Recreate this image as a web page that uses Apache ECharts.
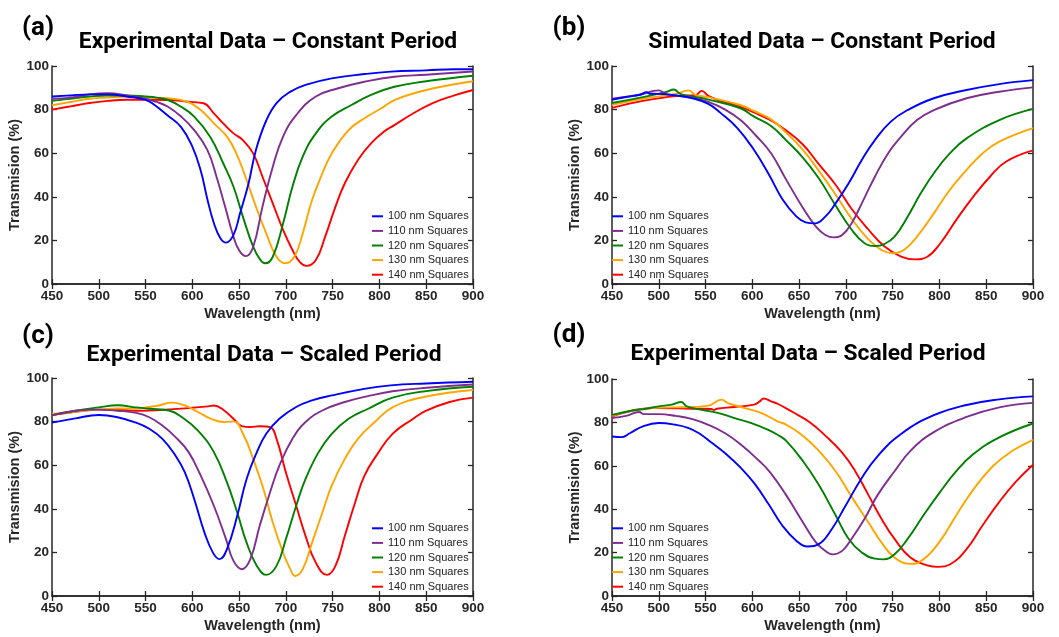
<!DOCTYPE html>
<html>
<head>
<meta charset="utf-8">
<script src="https://cdn.jsdelivr.net/npm/echarts@6/dist/echarts.min.js"></script>
<style>
html,body{margin:0;padding:0;background:#fff;}
#chart{width:1059px;height:637px;}
</style>
</head>
<body>
<div id="chart"></div>
<script>
// ---------- data: [wavelength (nm), transmission (%)] ----------
const seriesNames = ['100 nm Squares','110 nm Squares','120 nm Squares','130 nm Squares','140 nm Squares'];
const seriesColors = ['#0000FF','#7E2F8E','#008000','#FFA500','#FF0000'];
const panelTitles = ['Experimental Data \u2013 Constant Period','Simulated Data \u2013 Constant Period','Experimental Data \u2013 Scaled Period','Experimental Data \u2013 Scaled Period'];
const panelLabels = ['(a)','(b)','(c)','(d)'];
const xTicks = {min:450, max:900, step:50};
const yTicks = {min:0, max:100, step:20};

// Panel (a) experimental, constant period
const a100 = [[450,86],[470,86.5],[490,87],[510,87],[530,86],[550,84.5],[560,82],[573,77.5],[588,72],[600,63],[609,52],[616,39],[623,28],[630,21],[636,19],[644,22.5],[651,32.5],[660,46],[668,61.5],[679,75],[690,83],[704,88],[721,91.3],[749,94.3],[784,96.3],[812,97.4],[850,98],[880,98.5],[900,98.5]];
const a110 = [[450,85],[470,85.5],[490,87],[510,87.5],[530,86.5],[550,85],[562,83.5],[574,81.3],[588,76.8],[602,70.6],[616,61.5],[626,49],[635,35.5],[644,21.7],[650,15.5],[657,12.8],[665,17],[675,35.5],[686,53.8],[697,67.6],[711,77.5],[732,86],[756,89.8],[784,92.8],[816,95.1],[850,96],[900,97.5]];
const a120 = [[450,84],[470,85],[490,86],[510,86.5],[530,86.5],[550,86],[562,85.5],[574,84.4],[588,81.3],[602,76.8],[619,67.6],[633,55.4],[644,44.6],[654,30.9],[665,17.1],[672,11.5],[678,9.5],[686,12.5],[697,27.8],[707,44.6],[718,58.4],[732,69.1],[749,76.8],[770,82.1],[791,86.7],[816,90.5],[850,93],[900,95.5]];
const a130 = [[450,82],[470,83.5],[490,85],[510,85.5],[530,86],[550,85.5],[574,85.2],[595,83.6],[609,79.8],[623,73.7],[637,67.6],[647,59.9],[658,47.7],[668,35.5],[679,23.2],[690,12.5],[699,9.5],[709,12.5],[718,23.2],[728,38.5],[739,50.8],[749,59.9],[767,70.6],[784,76],[802,80.6],[816,84.4],[850,89],[900,93]];
const a140 = [[450,80],[470,81.5],[490,83],[510,84],[530,84.5],[550,84.5],[574,84.4],[595,83.6],[612,82.9],[623,78.3],[633,73.7],[644,69.1],[654,66],[665,59.9],[675,49.2],[686,37],[697,24.8],[707,15.6],[715,10],[722,8.3],[732,11],[742,21.7],[753,35.5],[763,46.2],[777,56.9],[791,64.5],[805,69.9],[816,72.9],[835,78],[857,83],[880,86.5],[900,89]];

// Panel (b) simulated, constant period
const b100 = [[450,84.5],[465,85.8],[480,86.8],[487,88],[490,87.3],[500,87.2],[518,86.5],[536,85.2],[553,82.6],[566,78.5],[584,71.5],[601,62],[618,50],[632,39],[647,31],[657,28.3],[667,27.8],[678,30.9],[689,37],[703,46.2],[717,56.9],[731,66],[748,74.5],[766,79.8],[794,85.2],[829,89],[864,91.7],[900,93.5]];
const b110 = [[450,85],[479,86.8],[500,88.8],[507,87.2],[518,86.5],[536,85.5],[553,83.5],[571,80],[588,75],[604,68],[620,60],[636,48],[654,35],[668,26.3],[678,22.5],[687,21.4],[696,22.5],[706,27.8],[717,37],[731,49.2],[745,59.9],[759,67.6],[776,75.2],[794,79.8],[829,85.2],[864,88.2],[900,90.2]];
const b120 = [[450,83],[483,85.7],[507,88],[516,89.2],[523,87.2],[531,86.4],[553,84.6],[588,80.5],[601,77],[620,72.5],[636,66],[654,58],[671,48.5],[689,36],[706,25],[720,18.7],[731,17.4],[741,18.3],[752,21.7],[766,30.9],[780,41.6],[794,50.8],[811,59.9],[829,66.8],[864,75.2],[900,80.3]];
const b130 = [[450,82.2],[483,85],[518,87.2],[532,88.8],[539,86.8],[553,85.7],[588,82],[601,79.5],[620,75.5],[636,69.5],[654,61.5],[671,52],[689,41],[706,30],[724,20.5],[738,15.6],[750,14.1],[762,15.6],[776,21.7],[794,32.4],[811,43.1],[829,52.3],[846,59.9],[864,65.3],[900,71.5]];
const b140 = [[450,80.8],[483,84],[518,86.2],[539,86.6],[546,88.6],[553,86.3],[566,84],[584,81.8],[601,78.8],[620,75],[636,70.5],[654,64],[671,55],[689,45.5],[706,34.5],[724,25],[741,17.3],[759,12.6],[774,11.3],[787,12.5],[801,18.7],[818,29.4],[836,40],[854,49.2],[871,56.1],[900,61.3]];

// Panel (c) experimental, scaled period
const c100 = [[450,79.5],[475,81.5],[500,83],[520,82],[540,79.5],[554,76.7],[568,72.1],[582,64.4],[592,56.7],[602,44.5],[613,29.1],[622,19.9],[629,16.9],[637,21.5],[648,36.8],[658,53.7],[669,66],[679,74.4],[693,81.3],[711,86.7],[728,89.7],[749,92],[781,94.8],[812,96.6],[850,97.5],[900,98.3]];
const c110 = [[450,83],[475,85],[500,85.5],[520,85],[540,84],[554,82],[568,78.2],[582,72.9],[596,66],[609,55.2],[623,41.4],[636,26.1],[644,16.1],[653,12.3],[662,16.9],[672,32.2],[683,47.5],[693,59.8],[707,72.1],[721,79.8],[739,85.1],[763,89],[791,92],[814,93.9],[850,95.5],[900,97]];
const c120 = [[450,83],[475,85],[500,86.5],[520,87.5],[540,86.5],[554,85.9],[575,85.1],[589,82],[606,75.9],[623,66],[637,52.1],[648,38.3],[658,24.5],[669,13.8],[679,9.7],[690,13.8],[700,26.1],[711,41.4],[721,53.7],[735,66],[749,74.4],[767,81.3],[788,85.9],[814,91],[850,94],[900,96]];
const c130 = [[450,83.5],[475,84.5],[500,85.5],[520,86],[540,86],[554,86.7],[564,87.4],[578,88.7],[592,87.4],[606,84.4],[620,81.3],[634,79.8],[644,80.1],[655,73.6],[665,62.9],[676,49.1],[686,33.7],[697,19.9],[704,13],[710,9.2],[718,12.3],[728,24.5],[739,38.3],[749,50.6],[763,62.9],[777,72.1],[795,79.8],[814,86.5],[850,91.5],[900,94.5]];
const c140 = [[450,83],[475,84.5],[500,85.5],[520,85.5],[540,85],[554,85.1],[575,85.6],[596,86.2],[617,87],[623,87.4],[634,85.1],[644,81.3],[653,77.9],[662,77.5],[672,77.9],[683,77.5],[690,72.1],[700,56.7],[711,41.4],[721,27.6],[732,15.3],[744,9.7],[753,13.8],[763,27.6],[774,42.9],[784,55.2],[798,65.2],[814,74.4],[835,81],[850,85],[875,89],[900,91]];

// Panel (d) scaled period (simulated-style curves)
const d100 = [[450,73.5],[460,73.2],[469,75],[483,78.2],[500,79.7],[518,78.9],[532,77.4],[543,75],[557,70.5],[571,65.8],[588,58.9],[602,52],[618,41.9],[632,32.5],[647,25.5],[659,22.8],[671,23.9],[685,30.9],[699,41.1],[717,54.4],[734,64.5],[759,74.7],[794,83.3],[829,88],[864,90.6],[900,92]];
const d110 = [[450,82],[465,83],[479,84.8],[484,83.8],[500,83.8],[518,83],[536,81.5],[553,78.9],[571,75],[588,69.7],[606,62.8],[619,57],[636,46.6],[654,34],[668,24.7],[678,20.8],[686,19.2],[696,20.8],[706,26.3],[720,35.6],[734,46.6],[752,57.5],[769,66.9],[794,75.5],[829,82.5],[864,86.9],[900,89]];
const d120 = [[450,83.5],[472,85.5],[486,86.3],[500,87.4],[514,88.2],[524,89.4],[530,87.4],[546,85.8],[564,84.3],[581,82],[599,79.7],[617,76.6],[627,74.3],[636,71.6],[654,62.2],[671,51.3],[689,37.2],[703,26.3],[717,20],[731,17.2],[740,16.9],[752,19.2],[766,26.3],[783,37.2],[801,48.1],[818,57.5],[836,65.3],[864,73.1],[900,79.5]];
const d130 = [[450,83],[472,85.4],[493,86.6],[536,87.1],[553,87.7],[567,90.5],[574,88.9],[592,86.6],[610,84.3],[627,80.5],[636,79],[654,73.9],[671,66.9],[689,57.5],[706,45.8],[724,34],[738,24.7],[752,17.7],[769,14.8],[783,16.9],[801,25.5],[818,37.2],[836,48.9],[857,59.8],[878,66.9],[900,72]];
const d140 = [[450,82.8],[472,85.5],[493,86.6],[536,86.3],[556,86.2],[559,85.7],[562,86.3],[581,87.1],[602,88.2],[608,89.7],[612,91],[620,89.7],[627,88.6],[643,84.8],[661,80.2],[678,73.9],[696,66.1],[710,57.5],[724,46.6],[738,35.6],[752,26.3],[769,17.7],[787,14.1],[799,13.4],[811,14.5],[829,21.6],[846,32.5],[864,43.4],[882,52.8],[900,60.5]];

const panelData = [[a100,a110,a120,a130,a140],[b100,b110,b120,b130,b140],[c100,c110,c120,c130,c140],[d100,d110,d120,d130,d140]];

// ---------- layout ----------
const grids = [
  {left:52, top:66, width:421, height:218},
  {left:612, top:66, width:421, height:218},
  {left:52, top:378, width:421, height:218},
  {left:612, top:379, width:421, height:217}
];
const titlePos = [[268,42],[822,42],[264,355],[808,354]];
const labelPos = [[38,28],[569,28],[38,336],[569,335]];
const legendPos = [[372,209],[612,209],[372,521],[612,521]];

const axisColor = '#262626';
const axisFont = 'Liberation Sans';

const xAxes = [], yAxes = [], series = [], legends = [], graphics = [];
grids.forEach((g, i) => {
  const tick = {inside:true, length:5, lineStyle:{color:axisColor, width:1.3}};
  const line = {show:true, lineStyle:{color:axisColor, width:1.5}};
  xAxes.push({
    type:'value', gridIndex:i, position:'bottom', min:xTicks.min, max:xTicks.max, interval:xTicks.step,
    axisLine:line, axisTick:tick, splitLine:{show:false},
    axisLabel:{color:axisColor, fontWeight:'bold', fontSize:13.5, fontFamily:axisFont, margin:5},
    name:'Wavelength (nm)', nameLocation:'middle', nameGap:22,
    nameTextStyle:{color:axisColor, fontWeight:'bold', fontSize:14.5, fontFamily:axisFont}
  });
  xAxes.push({
    type:'value', gridIndex:i, position:'top', min:xTicks.min, max:xTicks.max, interval:xTicks.step,
    axisLine:line, axisTick:tick, splitLine:{show:false}, axisLabel:{show:false}
  });
  yAxes.push({
    type:'value', gridIndex:i, position:'left', min:yTicks.min, max:yTicks.max, interval:yTicks.step,
    axisLine:line, axisTick:tick, splitLine:{show:false},
    axisLabel:{color:axisColor, fontWeight:'bold', fontSize:13.5, fontFamily:axisFont, margin:3},
    name:'Transmision (%)', nameLocation:'middle', nameGap:23,
    nameTextStyle:{color:axisColor, fontWeight:'bold', fontSize:14.5, fontFamily:axisFont}
  });
  yAxes.push({
    type:'value', gridIndex:i, position:'right', min:yTicks.min, max:yTicks.max, interval:yTicks.step,
    axisLine:line, axisTick:tick, splitLine:{show:false}, axisLabel:{show:false}
  });
  panelData[i].forEach((d, k) => {
    series.push({
      type:'line', name:seriesNames[k], xAxisIndex:2*i, yAxisIndex:2*i, data:d,
      showSymbol:false, symbol:'none', smooth:0.45,
      lineStyle:{color:seriesColors[k], width:1.9}, itemStyle:{color:seriesColors[k]},
      z:10 - k
    });
  });
  legends.push({
    orient:'vertical', left:legendPos[i][0], top:legendPos[i][1], padding:0, itemGap:0,
    itemWidth:11, itemHeight:2, icon:'rect', selectedMode:false,
    textStyle:{fontSize:11, fontFamily:axisFont, color:'#222', lineHeight:14.6},
    data:seriesNames.slice()
  });
  graphics.push({
    type:'text', x:titlePos[i][0], y:titlePos[i][1],
    style:{text:panelTitles[i], fill:'#000', fontSize:22.8, fontWeight:'bold', fontFamily:'Roboto', align:'center', verticalAlign:'middle'}
  });
  graphics.push({
    type:'text', x:labelPos[i][0], y:labelPos[i][1],
    style:{text:panelLabels[i], fill:'#000', fontSize:26, fontWeight:'bold', fontFamily:'Roboto', align:'center', verticalAlign:'middle'}
  });
});

const chart = echarts.init(document.getElementById('chart'), null, {renderer:'canvas'});
chart.setOption({
  animation:false,
  backgroundColor:'#fff',
  grid:grids,
  xAxis:xAxes,
  yAxis:yAxes,
  legend:legends,
  series:series,
  graphic:graphics
});
</script>
</body>
</html>
